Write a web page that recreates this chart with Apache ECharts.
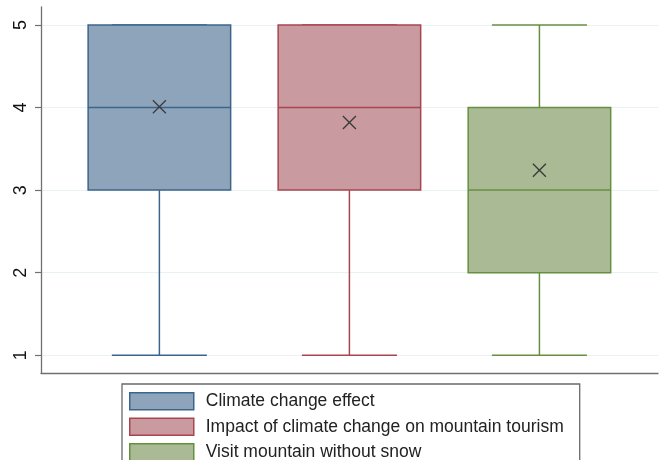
<!DOCTYPE html>
<html>
<head>
<meta charset="utf-8">
<script src="https://cdn.jsdelivr.net/npm/echarts@6/dist/echarts.min.js"></script>
<style>
  html, body { margin: 0; padding: 0; background: #fff; }
  #chart { width: 662px; height: 460px; }
</style>
</head>
<body>
<div id="chart"></div>
<script>
// Survey items (Likert 1-5) and their five-number summaries plus mean
const categories = [
  'Climate change effect',
  'Impact of climate change on mountain tourism',
  'Visit mountain without snow'
];
const positions = [1, 2, 3];
const minimums  = [1, 1, 1];
const lowerQuartiles = [3, 3, 2];
const medians   = [4, 4, 3];
const upperQuartiles = [5, 5, 4];
const maximums  = [5, 5, 5];
const means     = [4.01, 3.82, 3.24];
const yTicks    = [1, 2, 3, 4, 5];

const fills   = ['#8ea4ba', '#c99a9f', '#a9ba95'];
const strokes = ['#3b658b', '#a9454f', '#678f40'];

const BOX_W = 0.75;
const CAP_W = 0.5;

function renderBox(params, api) {
  const x = api.value(0);
  const lo = api.value(1), q1 = api.value(2), md = api.value(3),
        q3 = api.value(4), hi = api.value(5), mean = api.value(6);
  const c = v => api.coord([x, v]);
  const half = api.size([BOX_W, 0])[0] / 2;
  const capHalf = api.size([CAP_W, 0])[0] / 2;
  const i = params.seriesIndex;
  const line = { stroke: strokes[i], lineWidth: 1.5 };
  const pLo = c(lo), pQ1 = c(q1), pMd = c(md), pQ3 = c(q3), pHi = c(hi), pMean = c(mean);
  const cx = pMd[0];
  const children = [
    { type: 'line', shape: { x1: cx, y1: pQ3[1], x2: cx, y2: pHi[1] }, style: line },
    { type: 'line', shape: { x1: cx, y1: pLo[1], x2: cx, y2: pQ1[1] }, style: line },
    { type: 'line', shape: { x1: cx - capHalf, y1: pHi[1], x2: cx + capHalf, y2: pHi[1] }, style: line },
    { type: 'line', shape: { x1: cx - capHalf, y1: pLo[1], x2: cx + capHalf, y2: pLo[1] }, style: line },
    { type: 'rect', shape: { x: cx - half, y: pQ3[1], width: half * 2, height: pQ1[1] - pQ3[1] },
      style: { fill: fills[i], stroke: strokes[i], lineWidth: 1.5 } },
    { type: 'line', shape: { x1: cx - half, y1: pMd[1], x2: cx + half, y2: pMd[1] }, style: line }
  ];
  // mean marker: a small cross
  const m = 6.5;
  const cross = { stroke: '#3a3a3a', lineWidth: 1.3 };
  children.push(
    { type: 'line', shape: { x1: pMean[0] - m, y1: pMean[1] - m, x2: pMean[0] + m, y2: pMean[1] + m }, style: cross },
    { type: 'line', shape: { x1: pMean[0] - m, y1: pMean[1] + m, x2: pMean[0] + m, y2: pMean[1] - m }, style: cross }
  );
  return { type: 'group', children };
}

const series = categories.map((name, i) => ({
  name,
  type: 'custom',
  renderItem: renderBox,
  itemStyle: { color: fills[i], borderColor: strokes[i] },
  encode: { x: 0, y: [1, 2, 3, 4, 5, 6] },
  data: [[positions[i], minimums[i], lowerQuartiles[i], medians[i], upperQuartiles[i], maximums[i], means[i]]],
  z: 3
}));

const chart = echarts.init(document.getElementById('chart'), null, { renderer: 'canvas' });
chart.setOption({
  animation: false,
  backgroundColor: '#fff',
  grid: { left: 41, right: 4, top: 7, bottom: 87 },
  xAxis: {
    type: 'value', min: 0.377, max: 3.624,
    axisLine: { show: true, lineStyle: { color: '#707070', width: 1.3 } },
    axisTick: { show: false }, axisLabel: { show: false }, splitLine: { show: false }
  },
  yAxis: {
    type: 'value', min: 0.785, max: 5.218,
    axisLine: { show: true, lineStyle: { color: '#707070', width: 1.3 } },
    axisTick: { show: true, length: 6, customValues: yTicks, lineStyle: { color: '#707070', width: 1.2 } },
    axisLabel: {
      customValues: yTicks, rotate: 90, margin: 11,
      fontFamily: 'Liberation Sans, Arial, sans-serif', fontSize: 18, color: '#111'
    },
    splitLine: { show: true, lineStyle: { color: '#e9f1f4', width: 1 } }
  },
  legend: {
    orient: 'vertical',
    left: 122, top: 384, height: 120,
    padding: [8, 16, 8, 7],
    borderColor: '#6a6a6a', borderWidth: 1.3,
    itemWidth: 64, itemHeight: 17, itemGap: 7,
    icon: 'rect',
    selectedMode: false,
    textStyle: { fontFamily: 'Liberation Sans, Arial, sans-serif', fontSize: 17.5, color: '#222', padding: [0, 0, 0, 7], lineHeight: 17 },
    data: categories.map((name, i) => ({
      name,
      itemStyle: { color: fills[i], borderColor: strokes[i], borderWidth: 1.5 }
    }))
  },
  series
});
</script>
</body>
</html>
